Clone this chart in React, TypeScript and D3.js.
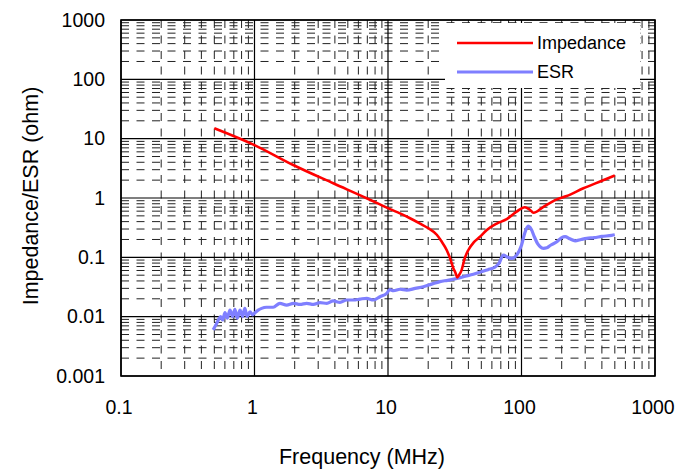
import * as d3 from 'd3'

// Impedance curve (MHz, ohm)
const impFreq = [0.5, 1, 1.95, 3.89, 6.92, 8.7, 10.35, 12.3, 14.5, 17.4, 20, 23.2, 25, 27.5, 29, 30.9, 32, 33, 34, 35.6, 37.5, 40, 44, 48.9, 55, 65.2, 77.5, 92, 106, 115, 123, 146, 184, 218, 291, 400, 500]
const impOhm = [15, 7.8, 3.6, 1.77, 0.99, 0.78, 0.65, 0.55, 0.46, 0.37, 0.31, 0.24, 0.19, 0.133, 0.1, 0.065, 0.055, 0.046, 0.05, 0.061, 0.095, 0.133, 0.18, 0.223, 0.29, 0.37, 0.44, 0.59, 0.7, 0.64, 0.565, 0.71, 0.95, 1.08, 1.46, 1.95, 2.4]

// ESR curve (MHz, ohm)
const esrFreq = [0.49, 0.521, 0.536, 0.558, 0.577, 0.601, 0.625, 0.655, 0.686, 0.713, 0.743, 0.779, 0.815, 0.846, 0.881, 0.925, 0.967, 1.01, 1.065, 1.13, 1.23, 1.38, 1.55, 1.74, 1.96, 2.19, 2.46, 2.76, 3.1, 3.48, 3.89, 4.37, 4.9, 5.5, 6.18, 6.92, 7.77, 8.72, 9.78, 10.3, 10.98, 12.3, 13.8, 16, 18.4, 21, 24.5, 28, 32.7, 38, 43.6, 50, 56, 63.2, 68, 73, 79, 84.5, 92, 100, 106, 112, 118, 125, 132, 138, 146, 155, 165, 184, 200, 212, 230, 252, 280, 308, 350, 400, 474, 500]
const esrOhm = [0.006, 0.0077, 0.0088, 0.01, 0.0088, 0.0117, 0.0094, 0.0129, 0.01, 0.0133, 0.0094, 0.0129, 0.01, 0.0138, 0.01, 0.0121, 0.0107, 0.0117, 0.0129, 0.0138, 0.0144, 0.0144, 0.0168, 0.0157, 0.0168, 0.0161, 0.0168, 0.0161, 0.0172, 0.0168, 0.0184, 0.0174, 0.0191, 0.0191, 0.0198, 0.0204, 0.0191, 0.0217, 0.0247, 0.0285, 0.0274, 0.029, 0.028, 0.03, 0.032, 0.035, 0.039, 0.041, 0.044, 0.048, 0.052, 0.057, 0.062, 0.068, 0.08, 0.109, 0.1, 0.096, 0.109, 0.16, 0.26, 0.337, 0.3, 0.22, 0.17, 0.151, 0.142, 0.145, 0.16, 0.183, 0.215, 0.223, 0.205, 0.19, 0.2, 0.209, 0.215, 0.225, 0.235, 0.24]

const xTicks = [0.1, 1, 10, 100, 1000]
const xTickLabels = ['0.1', '1', '10', '100', '1000']
const yTicks = [0.001, 0.01, 0.1, 1, 10, 100, 1000]
const yTickLabels = ['0.001', '0.01', '0.1', '1', '10', '100', '1000']
const seriesNames = ['Impedance', 'ESR']
const seriesColors = ['#ff0000', '#7f7fff']

const W = 689
const H = 470
const L = 121
const R = 655
const T = 20
const B = 376
const FONT = 'Liberation Sans, Arial, sans-serif'

export default function App() {
  const x = d3.scaleLog().domain([0.1, 1000]).range([L, R])
  const y = d3.scaleLog().domain([0.001, 1000]).range([B, T])

  const minorX: number[] = []
  for (let e = -1; e < 3; e++) for (let m = 2; m < 10; m++) minorX.push(m * Math.pow(10, e))
  const minorY: number[] = []
  for (let e = -3; e < 3; e++) for (let m = 2; m < 10; m++) minorY.push(m * Math.pow(10, e))

  const line = d3
    .line<[number, number]>()
    .x((d) => x(d[0]))
    .y((d) => y(d[1]))
    .curve(d3.curveMonotoneX)

  const imp = impFreq.map((f, i) => [f, impOhm[i]] as [number, number])
  const esr = esrFreq.map((f, i) => [f, esrOhm[i]] as [number, number])

  return (
    <div style={{ position: 'absolute', left: 0, top: 0 }}>
      <svg width={W} height={H} style={{ display: 'block', background: '#fff' }}>
        {/* minor grid */}
        {minorY.map((v) => (
          <line key={'my' + v} x1={L} x2={R} y1={y(v)} y2={y(v)} stroke="#222" strokeWidth={1} strokeDasharray="8 7.5" />
        ))}
        {minorX.map((v) => (
          <line key={'mx' + v} x1={x(v)} x2={x(v)} y1={T} y2={B} stroke="#222" strokeWidth={1} strokeDasharray="8 7.5" />
        ))}
        {/* major grid */}
        {yTicks.map((v) => (
          <line key={'gy' + v} x1={L} x2={R} y1={y(v)} y2={y(v)} stroke="#000" strokeWidth={1.2} />
        ))}
        {xTicks.map((v) => (
          <line key={'gx' + v} x1={x(v)} x2={x(v)} y1={T} y2={B} stroke="#000" strokeWidth={1.2} />
        ))}

        {/* legend */}
        <rect x={445} y={23} width={195} height={65} fill="#fff" />
        {seriesNames.map((s, i) => (
          <g key={s}>
            <line x1={457} x2={533} y1={43 + i * 29} y2={43 + i * 29} stroke={seriesColors[i]} strokeWidth={i === 0 ? 2.5 : 3} />
            <text x={537} y={43 + i * 29} dy="0.35em" fontFamily={FONT} fontSize={18}>
              {s}
            </text>
          </g>
        ))}

        {/* series */}
        <path d={line(esr) ?? ''} fill="none" stroke={seriesColors[1]} strokeWidth={3.2} strokeLinejoin="round" />
        <path d={line(imp) ?? ''} fill="none" stroke={seriesColors[0]} strokeWidth={2.6} strokeLinejoin="round" />

        <rect x={L} y={T} width={R - L} height={B - T} fill="none" stroke="#000" strokeWidth={1.6} />

        {/* tick labels */}
        {yTicks.map((v, i) => (
          <text key={'yl' + v} x={105} y={y(v)} dy="0.35em" textAnchor="end" fontFamily={FONT} fontSize={19.5}>
            {yTickLabels[i]}
          </text>
        ))}
        {xTicks.map((v, i) => (
          <text key={'xl' + v} x={x(v) - 2} y={407} dy="0.35em" textAnchor="middle" fontFamily={FONT} fontSize={19.5}>
            {xTickLabels[i]}
          </text>
        ))}

        <text x={362} y={456} dy="0.35em" textAnchor="middle" fontFamily={FONT} fontSize={21.5}>
          Frequency (MHz)
        </text>
        <text transform="translate(30,196) rotate(-90)" dy="0.35em" textAnchor="middle" fontFamily={FONT} fontSize={21.5}>
          Impedance/ESR (ohm)
        </text>
      </svg>
    </div>
  )
}
